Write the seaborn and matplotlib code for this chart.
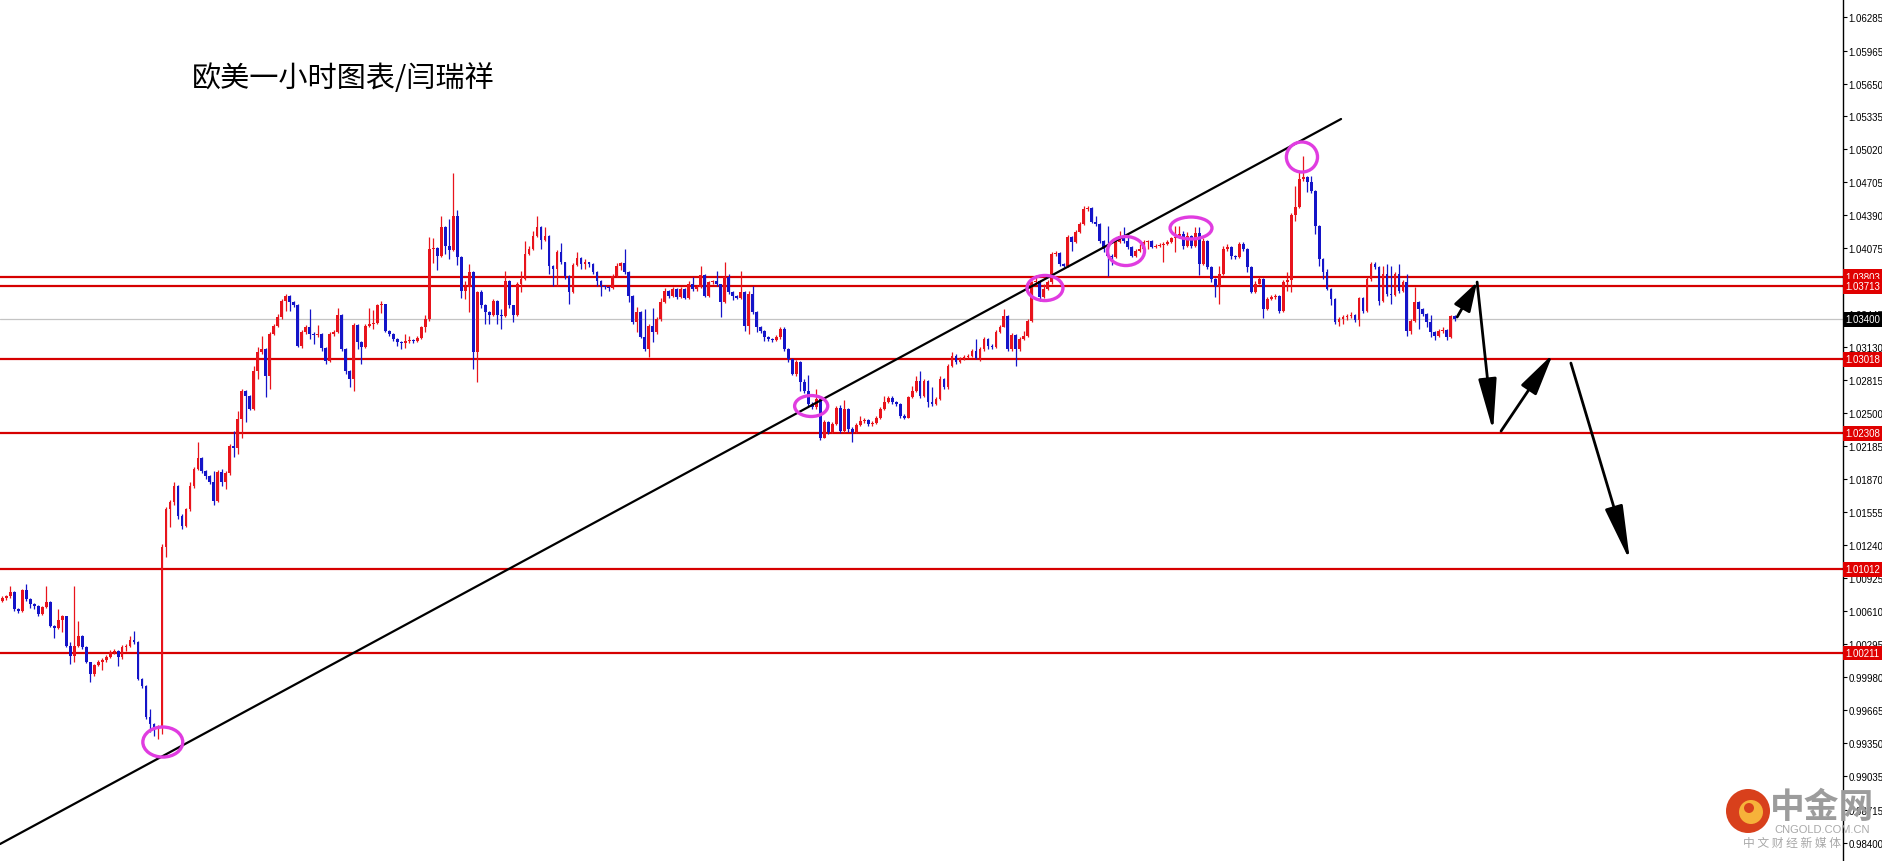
import numpy as np
import matplotlib
matplotlib.use("Agg")
import matplotlib.pyplot as plt
import matplotlib.transforms as mtransforms
from matplotlib.patches import Ellipse, Circle
import seaborn as sns

sns.set_theme(style="white")
plt.rcParams['font.family'] = ['Noto Sans CJK SC', 'DejaVu Sans']

title = "欧美一小时图表/闫瑞祥"

# EURUSD 1h candles, prices in pips (1e-4), each open = previous close
first_open = 10071
close_pips = [
    10074, 10076, 10079, 10063, 10061, 10081, 10073, 10068, 10066, 10058,
    10065, 10070, 10047, 10045, 10053, 10056, 10028, 10018, 10028, 10037,
    10027, 10013, 10001, 10010, 10013, 10014, 10017, 10022, 10023, 10017,
    10027, 10028, 10034, 10032, 9996, 9990, 9960, 9953, 9949, 9950,
    10122, 10159, 10165, 10181, 10152, 10142, 10159, 10181, 10197, 10207,
    10195, 10190, 10184, 10166, 10194, 10184, 10193, 10219, 10217, 10245,
    10271, 10267, 10254, 10290, 10309, 10311, 10286, 10326, 10333, 10342,
    10357, 10362, 10356, 10353, 10314, 10328, 10332, 10326, 10325, 10326,
    10312, 10300, 10326, 10328, 10344, 10311, 10290, 10283, 10334, 10318,
    10313, 10333, 10335, 10336, 10353, 10354, 10329, 10326, 10321, 10318,
    10317, 10319, 10320, 10319, 10322, 10332, 10340, 10407, 10408, 10400,
    10428, 10410, 10406, 10438, 10399, 10367, 10371, 10385, 10309, 10366,
    10353, 10347, 10344, 10357, 10344, 10343, 10376, 10353, 10344, 10374,
    10378, 10402, 10407, 10419, 10428, 10416, 10419, 10391, 10388, 10404,
    10395, 10381, 10366, 10392, 10398, 10393, 10395, 10393, 10385, 10376,
    10372, 10371, 10370, 10381, 10391, 10394, 10385, 10362, 10337, 10347,
    10323, 10311, 10333, 10328, 10340, 10356, 10367, 10362, 10369, 10361,
    10369, 10360, 10374, 10369, 10371, 10382, 10362, 10375, 10376, 10374,
    10356, 10380, 10366, 10362, 10360, 10366, 10333, 10364, 10347, 10332,
    10329, 10323, 10321, 10320, 10323, 10331, 10311, 10302, 10288, 10299,
    10280, 10271, 10259, 10256, 10264, 10226, 10242, 10232, 10240, 10255,
    10233, 10254, 10235, 10232, 10239, 10243, 10244, 10240, 10241, 10246,
    10254, 10261, 10265, 10261, 10259, 10247, 10246, 10266, 10271, 10281,
    10267, 10281, 10261, 10259, 10264, 10283, 10275, 10295, 10305, 10299,
    10302, 10304, 10305, 10310, 10303, 10311, 10321, 10314, 10313, 10328,
    10332, 10343, 10311, 10325, 10311, 10321, 10324, 10338, 10375, 10376,
    10361, 10369, 10375, 10402, 10403, 10393, 10391, 10418, 10414, 10423,
    10431, 10445, 10446, 10433, 10431, 10415, 10407, 10400, 10399, 10414,
    10419, 10415, 10409, 10400, 10405, 10407, 10414, 10415, 10409, 10410,
    10411, 10412, 10414, 10417, 10418, 10421, 10410, 10419, 10410, 10422,
    10393, 10415, 10390, 10378, 10372, 10383, 10407, 10409, 10400, 10399,
    10412, 10407, 10390, 10366, 10374, 10378, 10350, 10359, 10361, 10362,
    10348, 10375, 10377, 10439, 10447, 10474, 10476, 10471, 10462, 10429,
    10397, 10385, 10369, 10359, 10337, 10340, 10342, 10343, 10344, 10339,
    10360, 10348, 10378, 10393, 10390, 10357, 10383, 10364, 10363, 10383,
    10367, 10375, 10329, 10338, 10356, 10350, 10345, 10337, 10328, 10324,
    10329, 10330, 10323, 10343, 10340,
]
high_pips = [
    10076, 10077, 10085, 10080, 10064, 10082, 10087, 10074, 10069, 10067,
    10066, 10085, 10071, 10048, 10063, 10057, 10056, 10032, 10085, 10052,
    10038, 10028, 10013, 10011, 10014, 10016, 10019, 10024, 10025, 10024,
    10029, 10030, 10037, 10042, 10033, 9997, 9991, 9968, 9954, 9952,
    10125, 10161, 10167, 10184, 10182, 10154, 10160, 10184, 10199, 10223,
    10208, 10196, 10191, 10195, 10196, 10197, 10195, 10221, 10233, 10252,
    10273, 10272, 10268, 10295, 10313, 10324, 10312, 10328, 10335, 10345,
    10359, 10364, 10363, 10357, 10354, 10330, 10334, 10350, 10328, 10334,
    10327, 10313, 10328, 10330, 10351, 10345, 10312, 10291, 10336, 10335,
    10319, 10335, 10351, 10349, 10354, 10357, 10354, 10330, 10327, 10322,
    10319, 10326, 10324, 10321, 10324, 10333, 10344, 10418, 10417, 10409,
    10438, 10429, 10436, 10480, 10444, 10400, 10376, 10393, 10386, 10367,
    10368, 10354, 10348, 10359, 10358, 10350, 10386, 10377, 10353, 10375,
    10386, 10415, 10410, 10424, 10438, 10429, 10428, 10420, 10392, 10406,
    10413, 10395, 10382, 10394, 10404, 10399, 10397, 10395, 10394, 10386,
    10377, 10373, 10372, 10383, 10394, 10395, 10407, 10386, 10363, 10352,
    10348, 10350, 10335, 10351, 10342, 10360, 10370, 10368, 10371, 10370,
    10371, 10370, 10376, 10380, 10373, 10391, 10383, 10376, 10377, 10386,
    10374, 10395, 10383, 10367, 10363, 10386, 10367, 10367, 10372, 10348,
    10333, 10330, 10324, 10322, 10325, 10332, 10332, 10312, 10303, 10301,
    10300, 10283, 10287, 10261, 10273, 10265, 10244, 10243, 10242, 10257,
    10258, 10263, 10255, 10237, 10241, 10247, 10246, 10245, 10243, 10247,
    10256, 10267, 10267, 10267, 10262, 10260, 10249, 10267, 10276, 10286,
    10290, 10283, 10282, 10275, 10266, 10286, 10284, 10297, 10309, 10307,
    10304, 10306, 10307, 10311, 10321, 10313, 10323, 10322, 10316, 10330,
    10334, 10350, 10344, 10327, 10326, 10323, 10329, 10340, 10376, 10382,
    10377, 10374, 10377, 10404, 10405, 10404, 10394, 10420, 10419, 10425,
    10433, 10448, 10448, 10447, 10438, 10432, 10416, 10429, 10402, 10416,
    10424, 10428, 10419, 10410, 10407, 10412, 10416, 10416, 10416, 10412,
    10413, 10414, 10416, 10418, 10429, 10429, 10424, 10423, 10420, 10428,
    10428, 10417, 10416, 10391, 10379, 10391, 10410, 10412, 10410, 10401,
    10414, 10414, 10408, 10391, 10376, 10380, 10379, 10361, 10363, 10364,
    10363, 10377, 10385, 10441, 10467, 10481, 10496, 10477, 10477, 10463,
    10430, 10398, 10388, 10370, 10360, 10342, 10344, 10345, 10347, 10345,
    10361, 10361, 10380, 10395, 10395, 10391, 10391, 10393, 10391, 10385,
    10393, 10377, 10383, 10340, 10371, 10357, 10351, 10346, 10344, 10329,
    10331, 10332, 10331, 10344, 10344,
]
low_pips = [
    10070, 10072, 10074, 10061, 10059, 10060, 10071, 10064, 10063, 10056,
    10057, 10064, 10046, 10035, 10044, 10041, 10027, 10011, 10013, 10027,
    10025, 10012, 9993, 9999, 10009, 10005, 10013, 10016, 10020, 10009,
    10015, 10023, 10027, 10030, 9995, 9988, 9958, 9946, 9942, 9939,
    9944, 10113, 10141, 10162, 10149, 10140, 10141, 10157, 10179, 10196,
    10193, 10187, 10183, 10162, 10165, 10181, 10178, 10191, 10208, 10211,
    10226, 10242, 10253, 10253, 10283, 10307, 10266, 10273, 10325, 10332,
    10340, 10348, 10348, 10352, 10313, 10312, 10326, 10321, 10316, 10323,
    10310, 10297, 10299, 10324, 10327, 10310, 10288, 10275, 10271, 10311,
    10297, 10312, 10332, 10331, 10335, 10346, 10328, 10324, 10319, 10314,
    10311, 10312, 10317, 10317, 10318, 10321, 10328, 10338, 10394, 10387,
    10399, 10402, 10397, 10405, 10392, 10360, 10359, 10347, 10292, 10280,
    10351, 10335, 10335, 10343, 10335, 10331, 10342, 10351, 10337, 10343,
    10366, 10377, 10401, 10406, 10418, 10407, 10415, 10383, 10372, 10372,
    10393, 10378, 10354, 10365, 10391, 10388, 10388, 10390, 10383, 10372,
    10362, 10369, 10367, 10369, 10380, 10387, 10383, 10356, 10335, 10328,
    10322, 10310, 10304, 10318, 10326, 10338, 10355, 10360, 10361, 10359,
    10360, 10359, 10359, 10367, 10367, 10370, 10361, 10361, 10374, 10372,
    10342, 10355, 10364, 10358, 10359, 10359, 10329, 10326, 10345, 10328,
    10327, 10319, 10319, 10318, 10319, 10321, 10310, 10299, 10287, 10286,
    10271, 10269, 10257, 10254, 10254, 10225, 10226, 10230, 10231, 10239,
    10231, 10232, 10232, 10223, 10231, 10238, 10241, 10238, 10238, 10240,
    10245, 10253, 10260, 10259, 10257, 10246, 10245, 10246, 10265, 10270,
    10265, 10266, 10256, 10257, 10258, 10263, 10273, 10273, 10294, 10297,
    10298, 10301, 10303, 10304, 10302, 10300, 10310, 10311, 10311, 10312,
    10327, 10332, 10310, 10310, 10295, 10310, 10320, 10323, 10337, 10374,
    10357, 10360, 10368, 10374, 10400, 10391, 10390, 10390, 10405, 10413,
    10422, 10430, 10443, 10432, 10429, 10413, 10404, 10381, 10392, 10398,
    10413, 10413, 10407, 10399, 10399, 10404, 10406, 10407, 10408, 10408,
    10409, 10395, 10411, 10413, 10404, 10417, 10407, 10409, 10408, 10409,
    10382, 10392, 10388, 10375, 10361, 10354, 10382, 10405, 10397, 10397,
    10398, 10405, 10385, 10365, 10365, 10374, 10341, 10349, 10358, 10359,
    10346, 10347, 10367, 10366, 10434, 10446, 10472, 10461, 10460, 10421,
    10391, 10378, 10368, 10353, 10335, 10333, 10335, 10339, 10341, 10337,
    10333, 10346, 10347, 10376, 10388, 10353, 10356, 10362, 10354, 10362,
    10365, 10366, 10324, 10326, 10337, 10331, 10343, 10332, 10323, 10320,
    10323, 10327, 10320, 10322, 10338,
]

axis_ticks = [1.06285, 1.05965, 1.05650, 1.05335, 1.05020, 1.04705, 1.04390,
              1.04075, 1.03760, 1.03445, 1.03130, 1.02815, 1.02500, 1.02185,
              1.01870, 1.01555, 1.01240, 1.00925, 1.00610, 1.00295, 0.99980,
              0.99665, 0.99350, 0.99035, 0.98715, 0.98400]
levels = [1.03803, 1.03713, 1.03018, 1.02308, 1.01012, 1.00211]
last_price = 1.03400

# rising trend line (bar index, price)
trend_x = [-0.6, 335.5]
trend_y = [0.98387, 1.05311]

# marked touches: bar index, price, width in bars, height in price
marks = [
    (40.2, 0.99361, 10.0, 0.00287),
    (202.7, 1.02570, 8.3, 0.00200),
    (261.3, 1.03697, 9.0, 0.00240),
    (281.6, 1.04050, 9.3, 0.00277),
    (297.9, 1.04270, 10.5, 0.00210),
    (325.7, 1.04948, 7.8, 0.00287),
]

# projected path: start, end, head length
path_arrows = [
    ((364.6, 1.03420), (369.6, 1.03754), 0.9),
    ((369.6, 1.03754), (373.6, 1.02331), 1.6),
    ((375.6, 1.02331), (388.6, 1.03067), 1.3),
    ((393.1, 1.02980), (407.9, 1.01090), 1.7),
]

close = np.array(close_pips) / 1e4
high = np.array(high_pips) / 1e4
low = np.array(low_pips) / 1e4
open_ = np.r_[first_open / 1e4, close[:-1]]
idx = np.arange(len(close))
colors = np.where(close >= open_, "#e8141c", "#1414c8")

fig = plt.figure(figsize=(18.83, 8.62), dpi=100)
fig.patch.set_facecolor("white")
ax = fig.add_axes([0, 0, 1843 / 1883, 1])
ax.set_facecolor("white")
ax.set_xlim(-0.6, 461.3)
ax.set_ylim(0.98225, 1.06457)

ax.axhline(last_price, color="#c4c4c4", lw=0.9, zorder=1)
for lv in levels:
    ax.axhline(lv, color="#d60000", lw=1.6, zorder=2)

ax.vlines(idx, low, high, colors=colors, lw=0.9, zorder=3)
body = np.maximum(np.abs(close - open_), 0.00008)
ax.bar(idx, body, bottom=np.minimum(open_, close), width=0.7,
       color=colors, linewidth=0, zorder=4)

sns.lineplot(x=trend_x, y=trend_y, color="black", lw=1.6, ax=ax, zorder=5)

for mx, my, mw, mh in marks:
    ax.add_patch(Ellipse((mx, my), mw, mh, fill=False, ec="#e03ce0",
                         lw=2.4, zorder=6))

for (x0, y0), (x1, y1), hl in path_arrows:
    ax.annotate("", xy=(x1, y1), xytext=(x0, y0), zorder=7,
                arrowprops=dict(arrowstyle=f"-|>,head_length={hl},head_width=0.28",
                                color="black", lw=2.0, shrinkA=0, shrinkB=0,
                                mutation_scale=20))

# right price axis
for side in ["left", "top", "bottom"]:
    ax.spines[side].set_visible(False)
ax.spines["right"].set_color("black")
ax.spines["right"].set_linewidth(1.0)
ax.set_xticks([])
ax.yaxis.tick_right()
ax.set_yticks(axis_ticks)
ax.set_yticklabels([f"{t:.5f}" for t in axis_ticks], fontfamily="Liberation Sans")
ax.tick_params(axis="y", right=True, direction="out", length=3, width=0.8,
               colors="black", labelsize=7, pad=1)
ax.grid(False)

lab_tr = mtransforms.blended_transform_factory(fig.transFigure, ax.transData)
for lv in levels:
    fig.text(1845 / 1883, lv, f"{lv:.5f}", transform=lab_tr, ha="left", va="center",
             color="white", fontsize=7, fontfamily="Liberation Sans", zorder=8,
             bbox=dict(boxstyle="square,pad=0.25", fc="#e00000", ec="none"))
fig.text(1845 / 1883, last_price, f"{last_price:.5f}", transform=lab_tr, ha="left",
         va="center", color="white", fontsize=7, fontfamily="Liberation Sans",
         zorder=8, bbox=dict(boxstyle="square,pad=0.25", fc="black", ec="none"))

fig.text(192 / 1883, 1 - 79 / 862, title, fontsize=21, color="black",
         ha="left", va="center")

# watermark
px = mtransforms.IdentityTransform()
fig.add_artist(Circle((1748, 50), 22, transform=px, fc="#d8401c", ec="none", zorder=9))
fig.add_artist(Circle((1751, 49), 12, transform=px, fc="#f6b23a", ec="none", zorder=9))
fig.add_artist(Circle((1749, 53), 5, transform=px, fc="#d8401c", ec="none", zorder=9))
fig.text(1822 / 1883, 54 / 862, "中金网", fontsize=25, color="#9c9c9c",
         fontweight="bold", ha="center", va="center", zorder=9)
fig.text(1822 / 1883, 32 / 862, "CNGOLD.COM.CN", fontsize=8, color="#a8a8a8",
         fontfamily="Liberation Sans", ha="center", va="center", zorder=9)
fig.text(1792 / 1883, 19 / 862, "中 文 财 经 新 媒 体", fontsize=8.5, color="#a8a8a8",
         ha="center", va="center", zorder=9)

fig.savefig("out.png", dpi=100, facecolor="white")
